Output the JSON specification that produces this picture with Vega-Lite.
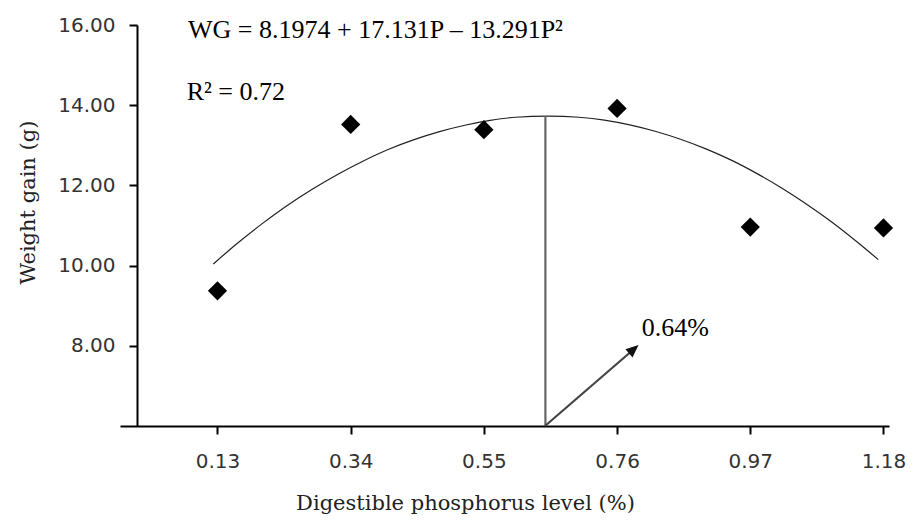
{
  "$schema": "https://vega.github.io/schema/vega-lite/v6.json",
  "width": 769,
  "height": 401,
  "autosize": {"type": "none"},
  "padding": {"left": 120, "top": 25, "right": 27, "bottom": 94},
  "background": "white",
  "config": {
    "view": {"stroke": null},
    "axis": {
      "grid": false,
      "domainColor": "black",
      "domainWidth": 2,
      "tickColor": "black",
      "tickWidth": 2,
      "tickSize": 8,
      "labelFont": "DejaVu Sans",
      "labelFontSize": 20,
      "labelColor": "#333",
      "titleFont": "DejaVu Serif",
      "titleFontSize": 21,
      "titleFontWeight": "normal",
      "titleColor": "#222"
    }
  },
  "datasets": {
    "points": [
      {"P": 0.13, "WG": 9.37},
      {"P": 0.34, "WG": 13.52},
      {"P": 0.55, "WG": 13.39},
      {"P": 0.76, "WG": 13.92},
      {"P": 0.97, "WG": 10.96},
      {"P": 1.18, "WG": 10.94}
    ],
    "curve": [
      {"P": 0.1234, "WG": 10.04},
      {"P": 0.16, "WG": 10.54},
      {"P": 0.20, "WG": 11.04},
      {"P": 0.24, "WG": 11.50},
      {"P": 0.28, "WG": 11.91},
      {"P": 0.32, "WG": 12.28},
      {"P": 0.36, "WG": 12.61},
      {"P": 0.40, "WG": 12.90},
      {"P": 0.44, "WG": 13.14},
      {"P": 0.48, "WG": 13.34},
      {"P": 0.52, "WG": 13.50},
      {"P": 0.56, "WG": 13.62},
      {"P": 0.60, "WG": 13.70},
      {"P": 0.651, "WG": 13.73},
      {"P": 0.70, "WG": 13.70},
      {"P": 0.74, "WG": 13.63},
      {"P": 0.78, "WG": 13.51},
      {"P": 0.82, "WG": 13.35},
      {"P": 0.86, "WG": 13.15},
      {"P": 0.90, "WG": 12.91},
      {"P": 0.94, "WG": 12.63},
      {"P": 0.98, "WG": 12.30},
      {"P": 1.02, "WG": 11.93},
      {"P": 1.06, "WG": 11.52},
      {"P": 1.10, "WG": 11.07},
      {"P": 1.14, "WG": 10.57},
      {"P": 1.1718, "WG": 10.15}
    ],
    "vline": [
      {"P": 0.647, "WG": 6},
      {"P": 0.647, "WG": 13.73}
    ],
    "arrow": [
      {"P": 0.6463, "WG": 6},
      {"P": 0.7863, "WG": 7.915}
    ],
    "arrowhead": [
      {"P": 0.7863, "WG": 7.915}
    ],
    "labels": [
      {"P": 0.0835, "WG": 15.686, "label": "WG = 8.1974 + 17.131P – 13.291P²"},
      {"P": 0.0814, "WG": 14.12, "label": "R² = 0.72"},
      {"P": 0.7988, "WG": 8.244, "label": "0.64%"}
    ]
  },
  "encoding": {
    "x": {
      "field": "P",
      "type": "quantitative",
      "scale": {"domain": [-0.0237, 1.1887], "nice": false, "zero": false},
      "axis": {
        "title": "Digestible phosphorus level (%)",
        "values": [0.13, 0.34, 0.55, 0.76, 0.97, 1.18],
        "format": ".2f",
        "labelPadding": 17,
        "titleX": 345,
        "titleY": 83,
        "titleAlign": "center",
        "titleBaseline": "alphabetic"
      }
    },
    "y": {
      "field": "WG",
      "type": "quantitative",
      "scale": {"domain": [6, 16], "nice": false, "zero": false},
      "axis": {
        "title": "Weight gain (g)",
        "values": [8, 10, 12, 14, 16],
        "format": ".2f",
        "offset": -17,
        "labelPadding": 14,
        "titleX": -109,
        "titleY": 177,
        "titleAlign": "center",
        "titleBaseline": "middle"
      }
    }
  },
  "layer": [
    {
      "data": {"name": "curve"},
      "mark": {"type": "line", "color": "#222", "strokeWidth": 1.2, "interpolate": "monotone"},
      "encoding": {}
    },
    {
      "data": {"name": "vline"},
      "mark": {"type": "line", "color": "#666", "strokeWidth": 2.2},
      "encoding": {}
    },
    {
      "data": {"name": "arrow"},
      "mark": {"type": "line", "color": "#444", "strokeWidth": 2.2},
      "encoding": {}
    },
    {
      "data": {"name": "arrowhead"},
      "mark": {"type": "point", "shape": "M0,-1L0.85,1L-0.85,1Z", "filled": true, "color": "#111", "size": 160, "angle": 49, "opacity": 1},
      "encoding": {}
    },
    {
      "data": {"name": "points"},
      "mark": {"type": "point", "shape": "diamond", "filled": true, "color": "black", "size": 370, "opacity": 1},
      "encoding": {}
    },
    {
      "data": {"name": "labels"},
      "mark": {"type": "text", "align": "left", "baseline": "alphabetic", "font": "Liberation Serif", "fontSize": 26, "color": "black"},
      "encoding": {"text": {"field": "label"}}
    }
  ]
}
